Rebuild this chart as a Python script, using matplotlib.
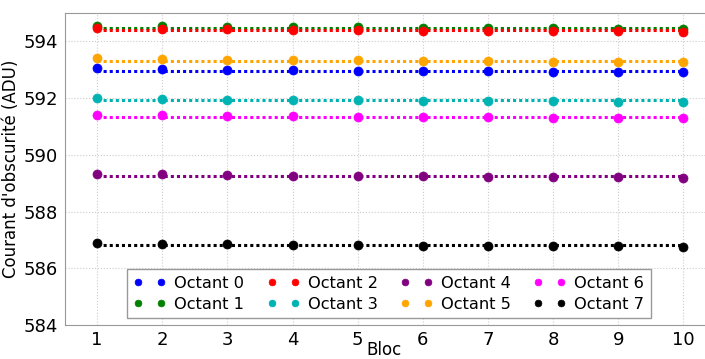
import matplotlib
matplotlib.use("Agg")
import matplotlib.pyplot as plt
import numpy as np

blocs = [1, 2, 3, 4, 5, 6, 7, 8, 9, 10]
labels = ["Octant 0", "Octant 1", "Octant 2", "Octant 3",
          "Octant 4", "Octant 5", "Octant 6", "Octant 7"]
colors = ["blue", "green", "red", "#00b3b3", "purple", "orange", "magenta", "black"]

octant0 = [593.05, 593.02, 592.99, 592.98, 592.97, 592.95, 592.95, 592.93, 592.93, 592.92]
octant1 = [594.56, 594.54, 594.51, 594.50, 594.49, 594.47, 594.47, 594.46, 594.45, 594.44]
octant2 = [594.47, 594.45, 594.42, 594.41, 594.40, 594.38, 594.38, 594.36, 594.35, 594.34]
octant3 = [591.99, 591.97, 591.94, 591.93, 591.92, 591.90, 591.90, 591.89, 591.87, 591.86]
octant4 = [589.33, 589.31, 589.28, 589.27, 589.26, 589.24, 589.23, 589.22, 589.21, 589.19]
octant5 = [593.40, 593.38, 593.35, 593.34, 593.33, 593.31, 593.31, 593.29, 593.28, 593.27]
octant6 = [591.42, 591.40, 591.37, 591.36, 591.35, 591.33, 591.33, 591.31, 591.30, 591.30]
octant7 = [586.88, 586.87, 586.84, 586.83, 586.82, 586.80, 586.79, 586.78, 586.77, 586.75]
series = [octant0, octant1, octant2, octant3, octant4, octant5, octant6, octant7]

fig = plt.figure(figsize=(7.05, 3.59), dpi=100)
ax = fig.add_axes([0.0915, 0.0947, 0.924, 0.869])

for vals, lab, c in zip(series, labels, colors):
    ax.plot(blocs, vals, 'o', color=c, markersize=6.5, markeredgecolor=c,
            markeredgewidth=0.5, label=lab, zorder=3)
    m = np.mean(vals)
    ax.plot([blocs[0], blocs[-1]], [m, m], linestyle=(0, (1, 1)), color=c,
            linewidth=2.2, zorder=2)

ax.set_xlim(0.5, 10.5)
ax.set_ylim(584, 595)
ax.set_xticks(blocs)
ax.set_yticks([584, 586, 588, 590, 592, 594])
ax.grid(True, color='#cccccc', linestyle=':', linewidth=0.8)
ax.set_axisbelow(True)
for s in ax.spines.values():
    s.set_color('#999999')
ax.tick_params(axis='both', length=0, labelsize=13, pad=4)
ax.tick_params(axis='y', pad=5)
ax.set_xlabel("Bloc", fontsize=12)
ax.xaxis.set_label_coords(0.49, -0.052, transform=ax.transAxes)
ax.xaxis.label.set_va('top')
ax.set_ylabel("Courant d'obscurité (ADU)", fontsize=12, labelpad=2)

leg = ax.legend(loc='lower left', bbox_to_anchor=(0.096, 0.022), borderaxespad=0,
                ncol=4, numpoints=2,
                fontsize=11.7, markerscale=0.75, fancybox=False, framealpha=1,
                edgecolor='#999999', handlelength=2.0, handletextpad=0.5,
                columnspacing=1.4, labelspacing=0.35, borderpad=0.4)
leg.get_frame().set_linewidth(1.0)

fig.savefig("out.png", dpi=100)
